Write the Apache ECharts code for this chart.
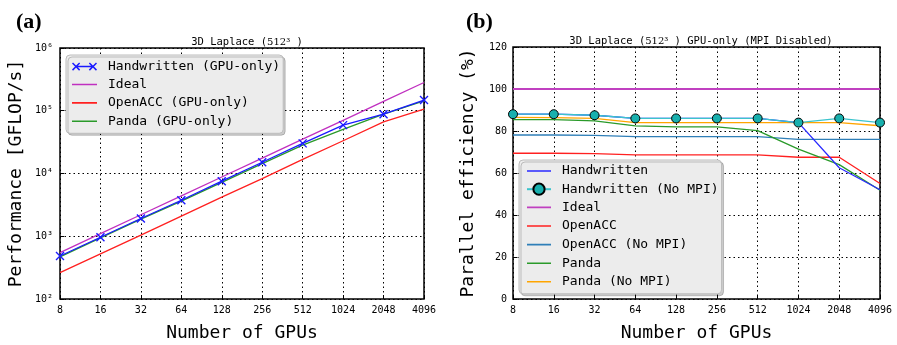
<!DOCTYPE html>
<html lang="en">
<head>
    <meta charset="UTF-8">
    <title>3D Laplace scaling</title>
    <script src="https://cdn.jsdelivr.net/npm/echarts@6/dist/echarts.min.js"></script>
    <style>
        html, body { margin: 0; padding: 0; background: #fff; }
    </style>
</head>
<body>
<div id="main" style="width: 897px;height:345px;"></div>
<script type="text/javascript">
    // number of GPUs (x axis, both panels)
    var gpus = ['8', '16', '32', '64', '128', '256', '512', '1024', '2048', '4096'];

    // (a) performance in GFLOP/s
    var perfHand = [485, 965, 1920, 3750, 7550, 15100, 30200, 59000, 88000, 148000];
    var perfIdeal = [550, 1100, 2200, 4400, 8800, 17600, 35200, 70400, 140800, 281600];
    var perfOpenacc = [263, 525, 1040, 2090, 4200, 8300, 16800, 33300, 66500, 106000];
    var perfPanda = [470, 940, 1870, 3620, 7220, 14400, 28300, 50500, 88500, 144000];
    var perfTicks = [100, 1000, 10000, 100000, 1000000];

    // (b) parallel efficiency in %
    var effHand = [88, 88, 87.5, 86, 86, 86, 86, 84, 62.5, 52];
    var effHandNoMpi = [88, 88, 87.5, 86, 86, 86, 86, 84, 86, 84];
    var effIdeal = [100, 100, 100, 100, 100, 100, 100, 100, 100, 100];
    var effOpenacc = [69.4, 69.4, 69.2, 68.6, 68.6, 68.6, 68.6, 67.5, 67.5, 55];
    var effOpenaccNoMpi = [78.1, 78.1, 77.9, 77.3, 77.3, 77.3, 77.3, 76, 76, 76];
    var effPanda = [85.4, 85.4, 84.8, 82.4, 82, 82, 80.2, 71.4, 64, 51.8];
    var effPandaNoMpi = [86.5, 86.4, 86, 84, 84, 84, 84, 84, 84, 82.5];

    var mono = 'DejaVu Sans Mono';
    var sup = {2: '\u00b2', 3: '\u00b3', 4: '\u2074', 5: '\u2075', 6: '\u2076'};
    var xMark = 'path://M0,0L10,10M10,0L0,10';

    // legend icons, with tiny corner anchors so the box stays w x 14
    function anchors(w) {
        return 'path://M0,0L0.05,0L0,0.05Z M' + w + ',14L' + (w - 0.05) + ',14L' + w + ',13.95Z';
    }
    function bar(x0, x1) {
        return ' M' + x0 + ',6.2L' + x1 + ',6.2L' + x1 + ',7.8L' + x0 + ',7.8Z';
    }
    function crossAt(c, h, o) {
        var p1 = [[c - h + o, 7 - h - o], [c + h + o, 7 + h - o], [c + h - o, 7 + h + o], [c - h - o, 7 - h + o]];
        var p2 = [[c - h + o, 7 + h + o], [c - h - o, 7 + h - o], [c + h - o, 7 - h - o], [c + h + o, 7 - h + o]];
        function poly(p) {
            return ' M' + p.map(function (q) { return q[0].toFixed(2) + ',' + q[1].toFixed(2); }).join('L') + 'Z';
        }
        return poly(p1) + poly(p2);
    }
    function plainItem(name, w) {
        return {name: name, icon: anchors(w) + bar(0, w), itemStyle: {borderWidth: 0}};
    }

    function line(name, data, color, xi, extra) {
        var s = {
            name: name,
            type: 'line',
            xAxisIndex: xi,
            yAxisIndex: xi,
            data: data,
            symbol: 'none',
            animation: false,
            lineStyle: {color: color, width: 1.3},
            itemStyle: {color: color}
        };
        for (var k in extra) s[k] = extra[k];
        return s;
    }

    var xAxisBase = {
        type: 'category',
        boundaryGap: false,
        data: gpus,
        axisLine: {show: false},
        axisTick: {show: true, inside: true, length: 4, lineStyle: {color: '#000'}},
        axisLabel: {fontFamily: mono, fontSize: 10, color: '#000', margin: 6},
        splitLine: {show: true, lineStyle: {color: '#000', type: [1.5, 3], width: 1}},
        name: 'Number of GPUs',
        nameLocation: 'middle',
        nameGap: 25,
        nameTextStyle: {fontFamily: mono, fontSize: 18, color: '#000'}
    };

    var legendBase = {
        orient: 'vertical', selectedMode: false,
        itemHeight: 14,
        backgroundColor: '#ececec', borderColor: '#bdbdbd', borderWidth: 1, borderRadius: 4,
        shadowColor: 'rgba(0,0,0,0.2)', shadowOffsetX: 2, shadowOffsetY: 2,
        textStyle: {fontFamily: mono, fontSize: 13, color: '#000', padding: [0, 0, 0, 6]}
    };

    var chartDom = document.getElementById('main');
    var myChart = echarts.init(chartDom);
    var option;

    option = {
        backgroundColor: '#fff',
        animation: false,
        title: [
            {text: '(a)', left: 11, top: 6, textStyle: {fontFamily: 'Liberation Serif', fontWeight: 'bold', fontSize: 22, color: '#000'}},
            {text: '(b)', left: 461, top: 6, textStyle: {fontFamily: 'Liberation Serif', fontWeight: 'bold', fontSize: 22, color: '#000'}},
            {
                text: '3D Laplace ({s|512\u00b3} )', left: 242, top: 32, textAlign: 'center',
                textStyle: {fontFamily: mono, fontSize: 10.5, fontWeight: 'normal', color: '#000',
                    rich: {s: {fontFamily: 'DejaVu Serif', fontSize: 10, color: '#000'}}}
            },
            {
                text: '3D Laplace ({s|512\u00b3} ) GPU-only (MPI Disabled)', left: 696, top: 31, textAlign: 'center',
                textStyle: {fontFamily: mono, fontSize: 10.5, fontWeight: 'normal', color: '#000',
                    rich: {s: {fontFamily: 'DejaVu Serif', fontSize: 10, color: '#000'}}}
            }
        ],
        legend: [
            Object.assign({}, legendBase, {
                left: 66, top: 55, itemWidth: 25, itemGap: 4.4,
                padding: [5, 3, 5, 6],
                data: [
                    {
                        name: 'Handwritten (GPU-only)',
                        icon: anchors(25) + bar(3.5, 21.5) + crossAt(3.5, 3.8, 0.55) + crossAt(21.5, 3.8, 0.55),
                        itemStyle: {color: '#1a1aff', borderWidth: 0}
                    },
                    plainItem('Ideal', 25),
                    plainItem('OpenACC (GPU-only)', 25),
                    plainItem('Panda (GPU-only)', 25)
                ]
            }),
            Object.assign({}, legendBase, {
                left: 519, top: 160, itemWidth: 24, itemGap: 4.6,
                padding: [4, 3, 5, 7],
                data: [
                    plainItem('Handwritten', 24),
                    'Handwritten (No MPI)',
                    plainItem('Ideal ', 24),
                    plainItem('OpenACC', 24),
                    plainItem('OpenACC (No MPI)', 24),
                    plainItem('Panda', 24),
                    plainItem('Panda (No MPI)', 24)
                ]
            })
        ],
        grid: [
            {left: 60, top: 48, width: 364, height: 251, outerBoundsMode: 'none', show: true, borderColor: '#000', borderWidth: 1.5, backgroundColor: 'transparent'},
            {left: 513, top: 47, width: 367, height: 252, outerBoundsMode: 'none', show: true, borderColor: '#000', borderWidth: 1.5, backgroundColor: 'transparent'}
        ],
        xAxis: [
            Object.assign({gridIndex: 0}, xAxisBase),
            Object.assign({gridIndex: 1}, xAxisBase)
        ],
        yAxis: [
            {
                gridIndex: 0, type: 'log', logBase: 10, min: perfTicks[0], max: perfTicks[perfTicks.length - 1],
                axisLine: {show: false},
                axisTick: {show: true, inside: true, length: 4, lineStyle: {color: '#000'}},
                axisLabel: {
                    fontFamily: mono, fontSize: 10, color: '#000', margin: 7,
                    formatter: function (v) { return '10' + sup[Math.round(Math.log10(v))]; }
                },
                splitLine: {show: true, lineStyle: {color: '#000', type: [1.5, 3], width: 1}},
                name: 'Performance [GFLOP/s]', nameLocation: 'middle', nameGap: 35,
                nameTextStyle: {fontFamily: mono, fontSize: 18, color: '#000'}
            },
            {
                gridIndex: 1, type: 'value', min: 0, max: 120, interval: 20,
                axisLine: {show: false},
                axisTick: {show: true, inside: true, length: 4, lineStyle: {color: '#000'}},
                axisLabel: {fontFamily: mono, fontSize: 10, color: '#000', margin: 6},
                splitLine: {show: true, lineStyle: {color: '#000', type: [1.5, 3], width: 1}},
                name: 'Parallel efficiency (%)', nameLocation: 'middle', nameGap: 36,
                nameTextStyle: {fontFamily: mono, fontSize: 18, color: '#000'}
            }
        ],
        series: [
            line('Ideal', perfIdeal, '#c030c0', 0, {}),
            line('OpenACC (GPU-only)', perfOpenacc, '#ff2020', 0, {}),
            line('Panda (GPU-only)', perfPanda, '#2a9a2a', 0, {}),
            line('Handwritten (GPU-only)', perfHand, '#1a1aff', 0, {
                symbol: xMark, symbolSize: 8,
                itemStyle: {color: 'none', borderColor: '#1a1aff', borderWidth: 1.4}
            }),

            line('Ideal ', effIdeal, '#c040c0', 1, {lineStyle: {color: '#c040c0', width: 2}}),
            line('OpenACC', effOpenacc, '#ff2020', 1, {}),
            line('OpenACC (No MPI)', effOpenaccNoMpi, '#2f7fb8', 1, {}),
            line('Panda', effPanda, '#2a9a2a', 1, {}),
            line('Panda (No MPI)', effPandaNoMpi, '#ffa500', 1, {}),
            line('Handwritten', effHand, '#2a2aff', 1, {}),
            line('Handwritten (No MPI)', effHandNoMpi, '#3cc4cc', 1, {
                symbol: 'circle', symbolSize: 9,
                itemStyle: {color: '#18b0ae', borderColor: '#000', borderWidth: 1}
            })
        ]
    };

    option && myChart.setOption(option);
    window.addEventListener("resize", function () {
        myChart.resize();
    });
</script>
</body>
</html>
